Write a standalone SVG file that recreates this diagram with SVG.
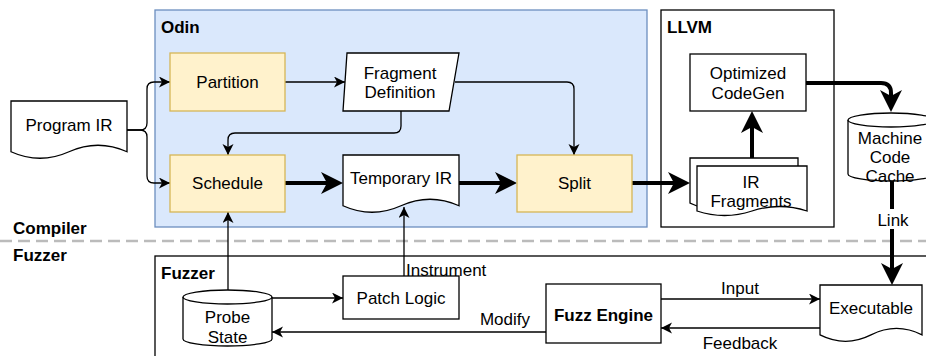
<svg xmlns="http://www.w3.org/2000/svg" width="926" height="356" viewBox="0 0 926 356">
  <style>
    text { font-family: "Liberation Sans", Arial, sans-serif; font-size: 17px; fill: #000; }
    .c { text-anchor: middle; }
    .b { font-weight: bold; }
    .box { fill: #fff; stroke: #000; stroke-width: 1.3; }
    .step { fill: #fff2cc; stroke: #d6b656; stroke-width: 1.3; }
    .thin { fill: none; stroke: #000; stroke-width: 1.3; marker-end: url(#arrow); }
    .thick { fill: none; stroke: #000; stroke-width: 4; marker-end: url(#arrowBig); }
  </style>
  <defs>
    <marker id="arrow" markerUnits="userSpaceOnUse" markerWidth="12" markerHeight="12" refX="11" refY="5.5" orient="auto">
      <path d="M0,0 L11,5.5 L0,11 L3,5.5 Z" fill="#000"/>
    </marker>
    <marker id="arrowBig" markerUnits="userSpaceOnUse" markerWidth="24" markerHeight="24" refX="6" refY="11" orient="auto">
      <path d="M0,0 L22,11 L0,22 L6,11 Z" fill="#000"/>
    </marker>
  </defs>

  <rect width="926" height="356" fill="#fff"/>

  <!-- containers -->
  <g id="odin">
    <rect x="155" y="10" width="492" height="217" fill="#dae8fc" stroke="#6c8ebf" stroke-width="1.3"/>
    <text x="161" y="33" class="b">Odin</text>
  </g>
  <g id="llvm">
    <rect x="661" y="10" width="173" height="217" class="box"/>
    <text x="667" y="33" class="b">LLVM</text>
  </g>
  <g id="fuzzer">
    <rect x="155" y="256" width="800" height="120" class="box"/>
    <text x="161" y="279" class="b">Fuzzer</text>
  </g>

  <!-- compiler / fuzzer divider -->
  <g id="divider">
    <line x1="0" y1="241" x2="926" y2="241" stroke="#bbbbbb" stroke-width="2.5" stroke-dasharray="12 6"/>
    <text x="13" y="234" class="b">Compiler</text>
    <text x="13" y="261" class="b">Fuzzer</text>
  </g>

  <!-- connectors -->
  <g id="connectors">
    <path class="thin" d="M127,130 H140 Q147,130 147,123 V89 Q147,82 154,82 H170"/>
    <path class="thin" d="M127,130 H140 Q147,130 147,137 V176 Q147,183 154,183 H170"/>
    <path class="thin" d="M285,82 H345"/>
    <path class="thin" d="M455,82 H567 Q574,82 574,89 V155"/>
    <path class="thin" d="M401,111 V126 Q401,133 394,133 H235 Q228,133 228,140 V155"/>
    <path class="thick" d="M285,183 H327"/>
    <path class="thick" d="M459,183 H501"/>
    <path class="thick" d="M632,183 H674"/>
    <path class="thick" d="M752,158 V127"/>
    <path class="thick" d="M806,83 H881 Q891,83 891,93 V96"/>
    <path class="thick" d="M892,181 V269"/>
    <path class="thin" d="M228,290 V212"/>
    <path class="thin" d="M272,298 H343"/>
    <path class="thin" d="M404,276 V207"/>
    <path class="thin" d="M546,332 H272"/>
    <path class="thin" d="M661,299 H820"/>
    <path class="thin" d="M820,328 H661"/>
    <rect x="876" y="209" width="32" height="20" fill="#fff"/>
    <text x="893" y="226" class="c">Link</text>
    <text x="406" y="276">Instrument</text>
    <text x="505" y="325" class="c">Modify</text>
    <text x="740" y="294" class="c">Input</text>
    <text x="740" y="349" class="c">Feedback</text>
  </g>

  <!-- nodes -->
  <g id="program-ir">
    <path class="box" d="M11,101 H127 V151.75 Q98,138.7 69,151.75 Q40,164.8 11,151.75 Z"/>
    <text x="69" y="131" class="c">Program IR</text>
  </g>
  <g id="partition">
    <rect x="170" y="53" width="115" height="58" class="step"/>
    <text x="227.5" y="88" class="c">Partition</text>
  </g>
  <g id="fragment-definition">
    <path class="box" d="M347,53 H459 L449,111 H343 Z"/>
    <text x="400" y="79" class="c">Fragment</text>
    <text x="400" y="98" class="c">Definition</text>
  </g>
  <g id="schedule">
    <rect x="170" y="155" width="115" height="57" class="step"/>
    <text x="227.5" y="189" class="c">Schedule</text>
  </g>
  <g id="temporary-ir">
    <path class="box" d="M343,155 H459 V205.75 Q430,192.7 401,205.75 Q372,218.8 343,205.75 Z"/>
    <text x="401" y="184" class="c">Temporary IR</text>
  </g>
  <g id="split">
    <rect x="517" y="155" width="115" height="57" class="step"/>
    <text x="574.5" y="189" class="c">Split</text>
  </g>
  <g id="optimized-codegen">
    <rect x="690" y="54" width="116" height="57" class="box"/>
    <text x="748" y="79" class="c">Optimized</text>
    <text x="748" y="99" class="c">CodeGen</text>
  </g>
  <g id="ir-fragments">
    <path class="box" d="M697,206 L690,203 V158 H798 V166"/>
    <path class="box" d="M697,166 H807 V211 Q779.5,202 752,211 Q724.5,220 697,211 Z"/>
    <text x="751" y="188" class="c">IR</text>
    <text x="751" y="207" class="c">Fragments</text>
  </g>
  <g id="machine-code-cache">
    <path class="box" d="M848,120 A43,7 0 0 1 934,120 V174 A43,7 0 0 1 848,174 Z"/>
    <path class="box" fill="none" d="M848,120 A43,7 0 0 0 934,120"/>
    <text x="890" y="144" class="c">Machine</text>
    <text x="890" y="163" class="c">Code</text>
    <text x="890" y="182" class="c">Cache</text>
  </g>
  <g id="probe-state">
    <path class="box" d="M183,297 A44.5,7 0 0 1 272,297 V339 A44.5,7 0 0 1 183,339 Z"/>
    <path class="box" d="M183,297 A44.5,7 0 0 0 272,297"/>
    <text x="227.5" y="323" class="c">Probe</text>
    <text x="227.5" y="343" class="c">State</text>
  </g>
  <g id="patch-logic">
    <rect x="343" y="276" width="116" height="43" class="box"/>
    <text x="401" y="304" class="c">Patch Logic</text>
  </g>
  <g id="fuzz-engine">
    <rect x="546" y="284" width="115" height="59" class="box"/>
    <text x="603.5" y="321" class="c b">Fuzz Engine</text>
  </g>
  <g id="executable">
    <path class="box" d="M820,285 H922 V334.9 Q896.5,322 871,334.9 Q845.5,347.7 820,334.9 Z"/>
    <text x="871" y="314" class="c">Executable</text>
  </g>
</svg>
